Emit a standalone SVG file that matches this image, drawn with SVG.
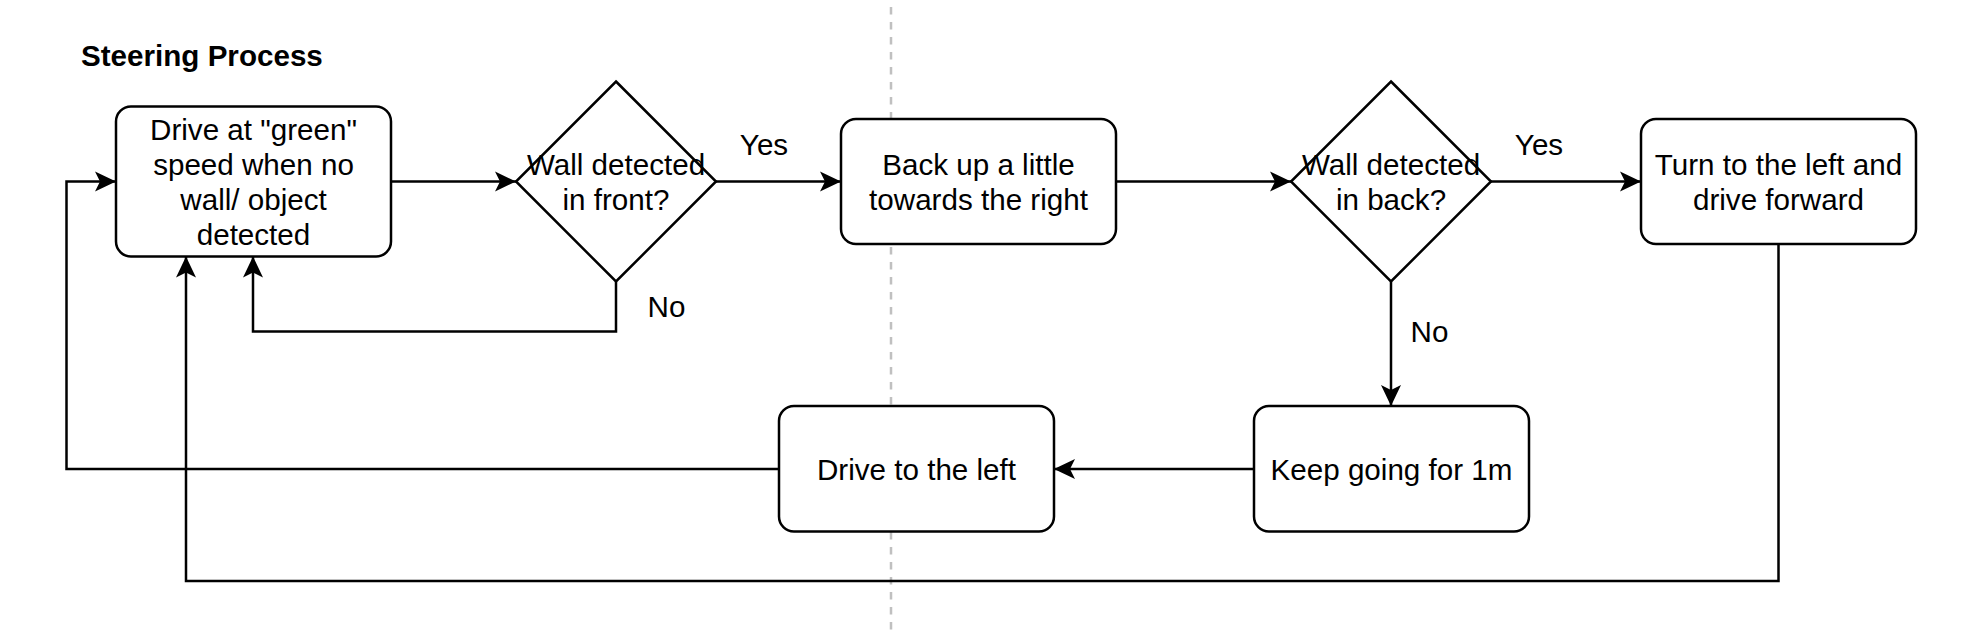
<svg xmlns="http://www.w3.org/2000/svg" width="1978" height="631" viewBox="0 0 1978 631">
<style>
.node{fill:#fff;stroke:#000;stroke-width:2.5}
.t{font-family:"Liberation Sans",Arial,sans-serif;font-size:29.6px;fill:#000;text-anchor:middle}
.lbl{font-family:"Liberation Sans",Arial,sans-serif;font-size:29.6px;fill:#000;text-anchor:middle}
.title{font-family:"Liberation Sans",Arial,sans-serif;font-size:29.6px;font-weight:bold;fill:#000}
.edge{fill:none;stroke:#000;stroke-width:2.5;marker-end:url(#arr)}
</style>
<defs>
<marker id="arr" markerUnits="userSpaceOnUse" viewBox="-22 -11 23 22" markerWidth="23" markerHeight="22" refX="0" refY="0" orient="auto">
<path d="M0,0 L-21,-10 L-16,0 L-21,10 Z" fill="#000"/>
</marker>
</defs>
<rect width="1978" height="631" fill="#fff"/>
<line x1="891" y1="7" x2="891" y2="631" stroke="#c0c0c0" stroke-width="2.5" stroke-dasharray="7.5 7.5"/>
<text class="title" x="81" y="66">Steering Process</text>
<g id="connectors">
<path class="edge" d="M391,181.5 L516,181.5"/>
<path class="edge" d="M716,181.5 L841,181.5"/>
<path class="edge" d="M616,281.5 L616,331.5 L253,331.5 L253,256.5"/>
<path class="edge" d="M1116,181.5 L1291,181.5"/>
<path class="edge" d="M1491,181.5 L1641,181.5"/>
<path class="edge" d="M1391,281.5 L1391,406"/>
<path class="edge" d="M1254,469 L1054,469"/>
<path class="edge" d="M779,469 L66.5,469 L66.5,181.5 L116,181.5"/>
<path class="edge" d="M1778.5,244 L1778.5,581 L186,581 L186,256.5"/>
<text class="lbl" x="764" y="155">Yes</text>
<text class="lbl" x="666.5" y="317">No</text>
<text class="lbl" x="1539" y="155">Yes</text>
<text class="lbl" x="1429.5" y="342">No</text>
</g>
<g id="drive-green">
<rect class="node" x="116" y="106.5" width="275" height="150" rx="15"/>
<text class="t" x="253.5" y="140">Drive at "green"</text>
<text class="t" x="253.5" y="175">speed when no</text>
<text class="t" x="253.5" y="210">wall/ object</text>
<text class="t" x="253.5" y="245">detected</text>
</g>
<g id="wall-front">
<path class="node" d="M616,81.5 L716,181.5 L616,281.5 L516,181.5 Z"/>
<text class="t" x="616" y="174.5">Wall detected</text>
<text class="t" x="616" y="209.5">in front?</text>
</g>
<g id="back-up">
<rect class="node" x="841" y="119" width="275" height="125" rx="15"/>
<text class="t" x="978.5" y="174.5">Back up a little</text>
<text class="t" x="978.5" y="209.5">towards the right</text>
</g>
<g id="wall-back">
<path class="node" d="M1391,81.5 L1491,181.5 L1391,281.5 L1291,181.5 Z"/>
<text class="t" x="1391" y="174.5">Wall detected</text>
<text class="t" x="1391" y="209.5">in back?</text>
</g>
<g id="turn-left">
<rect class="node" x="1641" y="119" width="275" height="125" rx="15"/>
<text class="t" x="1778.5" y="174.5">Turn to the left and</text>
<text class="t" x="1778.5" y="209.5">drive forward</text>
</g>
<g id="keep-going">
<rect class="node" x="1254" y="406" width="275" height="125.5" rx="15"/>
<text class="t" x="1391.5" y="479.5">Keep going for 1m</text>
</g>
<g id="drive-left">
<rect class="node" x="779" y="406" width="275" height="125.5" rx="15"/>
<text class="t" x="916.5" y="479.5">Drive to the left</text>
</g>
</svg>
